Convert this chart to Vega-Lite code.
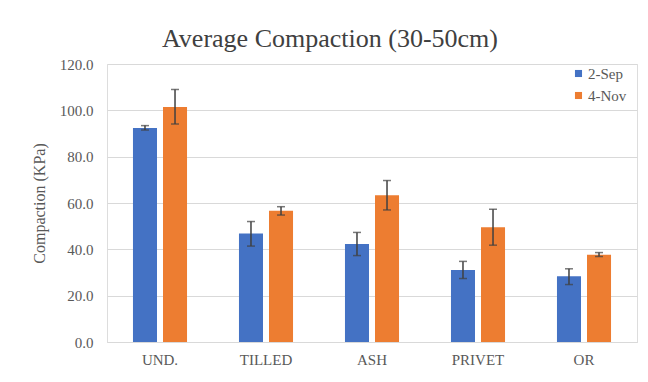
{
  "$schema": "https://vega.github.io/schema/vega-lite/v6.json",
  "autosize": {"type": "none"},
  "width": 530,
  "height": 278,
  "padding": {"left": 107, "top": 64, "right": 11, "bottom": 40},
  "background": "white",
  "config": {"font": "Times New Roman, Liberation Serif, DejaVu Serif, serif"},
  "title": {
    "text": "Average Compaction (30-50cm)",
    "font": "Times New Roman, Liberation Serif, DejaVu Serif, serif",
    "fontSize": 26,
    "fontWeight": "normal",
    "color": "#404040",
    "anchor": "middle",
    "dx": -42,
    "offset": 5
  },
  "data": {
    "values": [
      {"cat": "UND.", "date": "2-Sep", "value": 92.4, "lo": 91.5, "hi": 93.4},
      {"cat": "UND.", "date": "4-Nov", "value": 101.4, "lo": 94.1, "hi": 109.0},
      {"cat": "TILLED", "date": "2-Sep", "value": 46.8, "lo": 41.4, "hi": 52.0},
      {"cat": "TILLED", "date": "4-Nov", "value": 56.7, "lo": 54.8, "hi": 58.4},
      {"cat": "ASH", "date": "2-Sep", "value": 42.3, "lo": 37.3, "hi": 47.3},
      {"cat": "ASH", "date": "4-Nov", "value": 63.3, "lo": 57.0, "hi": 69.7},
      {"cat": "PRIVET", "date": "2-Sep", "value": 31.1, "lo": 27.4, "hi": 34.8},
      {"cat": "PRIVET", "date": "4-Nov", "value": 49.5, "lo": 41.8, "hi": 57.3},
      {"cat": "OR", "date": "2-Sep", "value": 28.4, "lo": 24.8, "hi": 31.6},
      {"cat": "OR", "date": "4-Nov", "value": 37.7, "lo": 36.9, "hi": 38.6}
    ]
  },
  "encoding": {
    "x": {
      "field": "cat",
      "type": "nominal",
      "sort": null,
      "scale": {"paddingInner": 0.49, "paddingOuter": 0.245},
      "axis": {
        "title": null,
        "labelAngle": 0,
        "labelFont": "Times New Roman, Liberation Serif, DejaVu Serif, serif",
        "labelFontSize": 15,
        "labelColor": "#595959",
        "labelPadding": 10,
        "ticks": false,
        "domainColor": "#d9d9d9",
        "domainWidth": 1
      }
    },
    "xOffset": {
      "field": "date",
      "type": "nominal",
      "scale": {"paddingInner": 0.2, "paddingOuter": 0}
    }
  },
  "layer": [
    {
      "mark": {"type": "bar"},
      "encoding": {
        "y": {
          "field": "value",
          "type": "quantitative",
          "scale": {"domain": [0, 120]},
          "axis": {
            "title": "Compaction (KPa)",
            "titleFont": "Times New Roman, Liberation Serif, DejaVu Serif, serif",
            "titleFontSize": 16,
            "titleFontWeight": "normal",
            "titleColor": "#595959",
            "titlePadding": 12,
            "labelFont": "Times New Roman, Liberation Serif, DejaVu Serif, serif",
            "labelFontSize": 15,
            "labelColor": "#595959",
            "labelPadding": 14,
            "format": ".1f",
            "values": [0, 20, 40, 60, 80, 100, 120],
            "ticks": false,
            "domain": false,
            "gridColor": "#d9d9d9"
          }
        },
        "color": {
          "field": "date",
          "type": "nominal",
          "scale": {"domain": ["2-Sep", "4-Nov"], "range": ["#4472C4", "#ED7D31"]},
          "legend": {
            "title": null,
            "orient": "none",
            "legendX": 464,
            "legendY": 2,
            "symbolType": "square",
            "symbolSize": 50,
            "symbolStrokeWidth": 0,
            "labelFont": "Times New Roman, Liberation Serif, DejaVu Serif, serif",
            "labelFontSize": 15,
            "labelColor": "#595959",
            "labelOffset": 2,
            "rowPadding": 6
          }
        }
      }
    },
    {
      "mark": {"type": "rule", "color": "#404040", "strokeWidth": 1.5},
      "encoding": {
        "y": {"field": "lo", "type": "quantitative"},
        "y2": {"field": "hi"}
      }
    },
    {
      "mark": {"type": "tick", "color": "#404040", "thickness": 1.5, "size": 8},
      "encoding": {
        "y": {"field": "lo", "type": "quantitative"}
      }
    },
    {
      "mark": {"type": "tick", "color": "#404040", "thickness": 1.5, "size": 8},
      "encoding": {
        "y": {"field": "hi", "type": "quantitative"}
      }
    }
  ]
}
